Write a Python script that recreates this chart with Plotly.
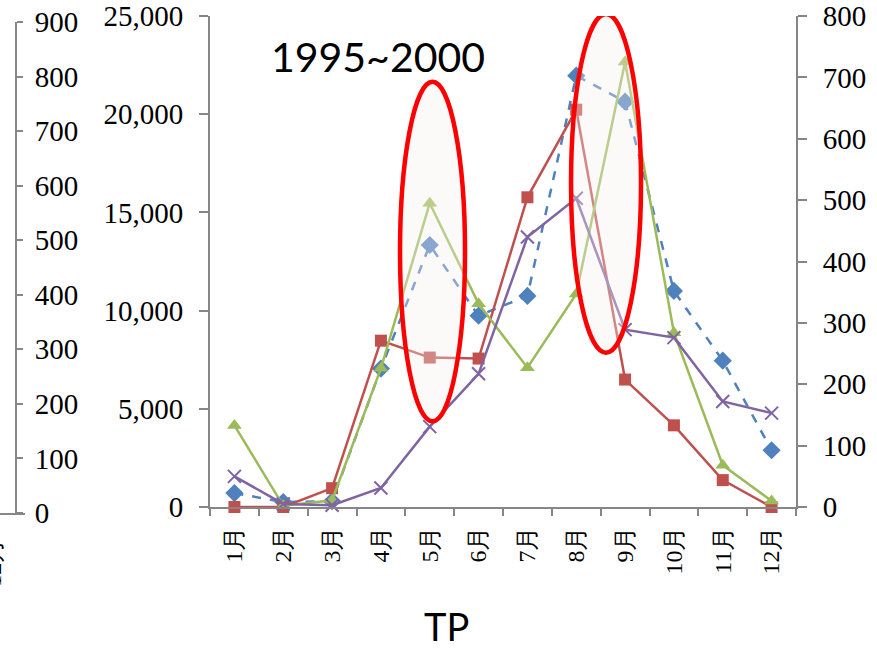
import plotly.graph_objects as go

months = ["1月", "2月", "3月", "4月", "5月", "6月", "7月", "8月", "9月", "10月", "11月", "12月"]
# series on the left (0-25,000) axis
blue_vals = [710, 250, 300, 7050, 13340, 9740, 10750, 21960, 20640, 11000, 7450, 2890]
red_vals = [0, 0, 960, 8470, 7610, 7560, 15770, 20230, 6490, 4160, 1370, 0]
# series on the right (0-800) axis
green_vals = [133, 2, 11, 226, 495, 331, 227, 347, 725, 284, 68, 10]
purple_vals = [50, 5, 3, 31, 131, 217, 440, 503, 289, 276, 172, 153]

W, H = 877, 650
ML, MR, MT, MB = 0, 0, 14, 137
PW, PH = W - ML - MR, H - MT - MB

def px_x(p):
    return (p - ML) / PW

def px_y(p):
    return (H - MB - p) / PH

AX = "#868686"
tickfont = dict(family="Liberation Serif", size=29, color="black")
xfont = dict(family="Liberation Serif", size=24, color="black")

fig = go.Figure()
fig.add_trace(go.Scatter(x=months, y=blue_vals, mode="lines+markers", yaxis="y",
                         line=dict(color="#4F81BD", width=2.5, dash="dash"),
                         marker=dict(symbol="diamond", size=14, color="#4F81BD"),
                         cliponaxis=False, showlegend=False))
fig.add_trace(go.Scatter(x=months, y=red_vals, mode="lines+markers", yaxis="y",
                         line=dict(color="#C0504D", width=2.5),
                         marker=dict(symbol="square", size=12, color="#C0504D"),
                         cliponaxis=False, showlegend=False))
fig.add_trace(go.Scatter(x=months, y=green_vals, mode="lines+markers", yaxis="y2",
                         line=dict(color="#9BBB59", width=2.5),
                         marker=dict(symbol="triangle-up", size=13, color="#9BBB59"),
                         cliponaxis=False, showlegend=False))
fig.add_trace(go.Scatter(x=months, y=purple_vals, mode="lines+markers", yaxis="y2",
                         line=dict(color="#8064A2", width=2.5),
                         marker=dict(symbol="x-thin", size=13, color="#8064A2",
                                     line=dict(color="#8064A2", width=2)),
                         cliponaxis=False, showlegend=False))
# empty trace so the outer left axis is drawn
fig.add_trace(go.Scatter(x=[None], y=[None], xaxis="x2", yaxis="y3", showlegend=False,
                         hoverinfo="skip"))

def cat(p):
    return (p - 234.4) / ((796 - 210) / 12)

def val(p):
    return (507 - p) / 493 * 25000

ell_style = dict(type="circle", xref="x", yref="y", layer="above",
                 line=dict(color="#FF0000", width=4.5),
                 fillcolor="rgba(245,238,238,0.35)")
fig.add_shape(x0=cat(400), x1=cat(465), y0=val(421), y1=val(80), **ell_style)
fig.add_shape(x0=cat(571), x1=cat(641), y0=val(352), y1=val(12), **ell_style)

fig.add_annotation(text="1995~2000", xref="paper", yref="paper", x=px_x(378), y=px_y(55),
                   xanchor="center", yanchor="middle",
                   showarrow=False, font=dict(family="Lato", size=41, color="black"))
fig.add_annotation(text="TP", xref="paper", yref="paper", x=px_x(446), y=px_y(626),
                   xanchor="center", yanchor="middle",
                   showarrow=False, font=dict(family="Lato", size=38, color="black"))
fig.add_annotation(text="12月", xref="paper", yref="paper", x=0, y=px_y(563), xanchor="right",
                   yanchor="middle", xshift=8, textangle=-90, showarrow=False, font=xfont)

fig.update_layout(
    width=W, height=H, margin=dict(l=ML, r=MR, t=MT, b=MB),
    plot_bgcolor="white", paper_bgcolor="white",
    xaxis=dict(domain=[px_x(210), px_x(796)], type="category", range=[-0.5, 11.5],
               anchor="y", showline=True, linecolor=AX, linewidth=2, ticks="outside",
               tickson="boundaries", ticklen=7, tickcolor=AX, tickwidth=2,
               tickangle=-90, tickfont=xfont, showgrid=False, zeroline=False,
               ticklabelstandoff=8),
    yaxis=dict(domain=[6 / PH, 1], range=[0, 25000], dtick=5000, tickformat=",",
               anchor="x", side="left", showline=True, linecolor=AX, linewidth=2,
               ticks="outside", ticklen=9, tickcolor=AX, tickwidth=2, tickfont=tickfont,
               showgrid=False, zeroline=False, ticklabelstandoff=10),
    yaxis2=dict(range=[0, 800], dtick=100, overlaying="y", anchor="x", side="right",
                showline=True, linecolor=AX, linewidth=2, ticks="outside", ticklen=9,
                tickcolor=AX, tickwidth=2, tickfont=tickfont, showgrid=False,
                zeroline=False, ticklabelstandoff=10),
    xaxis2=dict(domain=[0, px_x(25)], range=[0, 1], anchor="y3", showline=True,
                linecolor=AX, linewidth=2, showticklabels=False, ticks="",
                showgrid=False, zeroline=False),
    yaxis3=dict(domain=[0, 1 - 6 / PH], range=[0, 900], dtick=100, anchor="free",
                position=px_x(16), side="right", showline=True, linecolor=AX, linewidth=2,
                ticks="outside", ticklen=6, tickcolor=AX, tickwidth=2, tickfont=tickfont,
                showgrid=False, zeroline=False, ticklabelstandoff=6),
)

fig.write_html("out.html", config={"displayModeBar": False})
